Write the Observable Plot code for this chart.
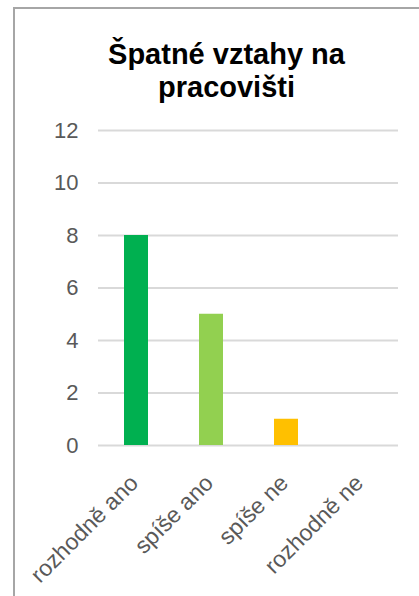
<!DOCTYPE html>
<html>
<head>
<meta charset="utf-8">
<script src="https://cdn.jsdelivr.net/npm/d3@7"></script>
<script src="https://cdn.jsdelivr.net/npm/@observablehq/plot@0.6"></script>
<style>
  html, body { margin: 0; padding: 0; background: #fff; }
  body { width: 419px; height: 596px; overflow: hidden; position: relative; font-family: "Liberation Sans", Arial, sans-serif; }
  #frame { position: absolute; left: 13px; top: 7px; width: 500px; height: 700px; border-left: 2px solid #a6a6a6; border-top: 2px solid #a6a6a6; box-sizing: border-box; }
  #title { position: absolute; left: 0; width: 453px; top: 38px; text-align: center; font-weight: bold; font-size: 29px; line-height: 33px; color: #000; }
  #chart { position: absolute; left: 0; top: 0; }
</style>
</head>
<body>
<div id="frame"></div>
<div id="chart"></div>
<div id="title">Špatné vztahy na<br>pracovišti</div>
<script>
const categories = ["rozhodně ano", "spíše ano", "spíše ne", "rozhodně ne"];
const values = [8, 5, 1, 0];
const colors = ["#00B050", "#92D050", "#FFC000", "#FF0000"];
const yTicks = [0, 2, 4, 6, 8, 10, 12];

const data = categories.map((c, i) => ({category: c, value: values[i], color: colors[i]}));

const chart = Plot.plot({
  width: 419,
  height: 596,
  marginLeft: 98,
  marginRight: 21,
  marginTop: 130,
  marginBottom: 151,
  style: {fontFamily: "Liberation Sans, Arial, sans-serif", background: "transparent"},
  x: {domain: categories, paddingInner: 0.68, paddingOuter: 0.34, label: null},
  y: {domain: [0, 12], label: null},
  marks: [
    Plot.gridY(yTicks, {stroke: "#d9d9d9", strokeWidth: 2, strokeOpacity: 1}),
    Plot.barY(data, {x: "category", y: "value", fill: "color"}),
    Plot.axisY(yTicks, {tickSize: 0, tickPadding: 20, fontSize: 22, fill: "#595959", label: null}),
    Plot.axisX({tickSize: 0, tickRotate: -45, tickPadding: 31, dx: 3, dy: 8, textAnchor: "end", lineAnchor: "bottom", fontSize: 23, fill: "#595959", label: null})
  ]
});
document.getElementById("chart").appendChild(chart);
</script>
</body>
</html>
